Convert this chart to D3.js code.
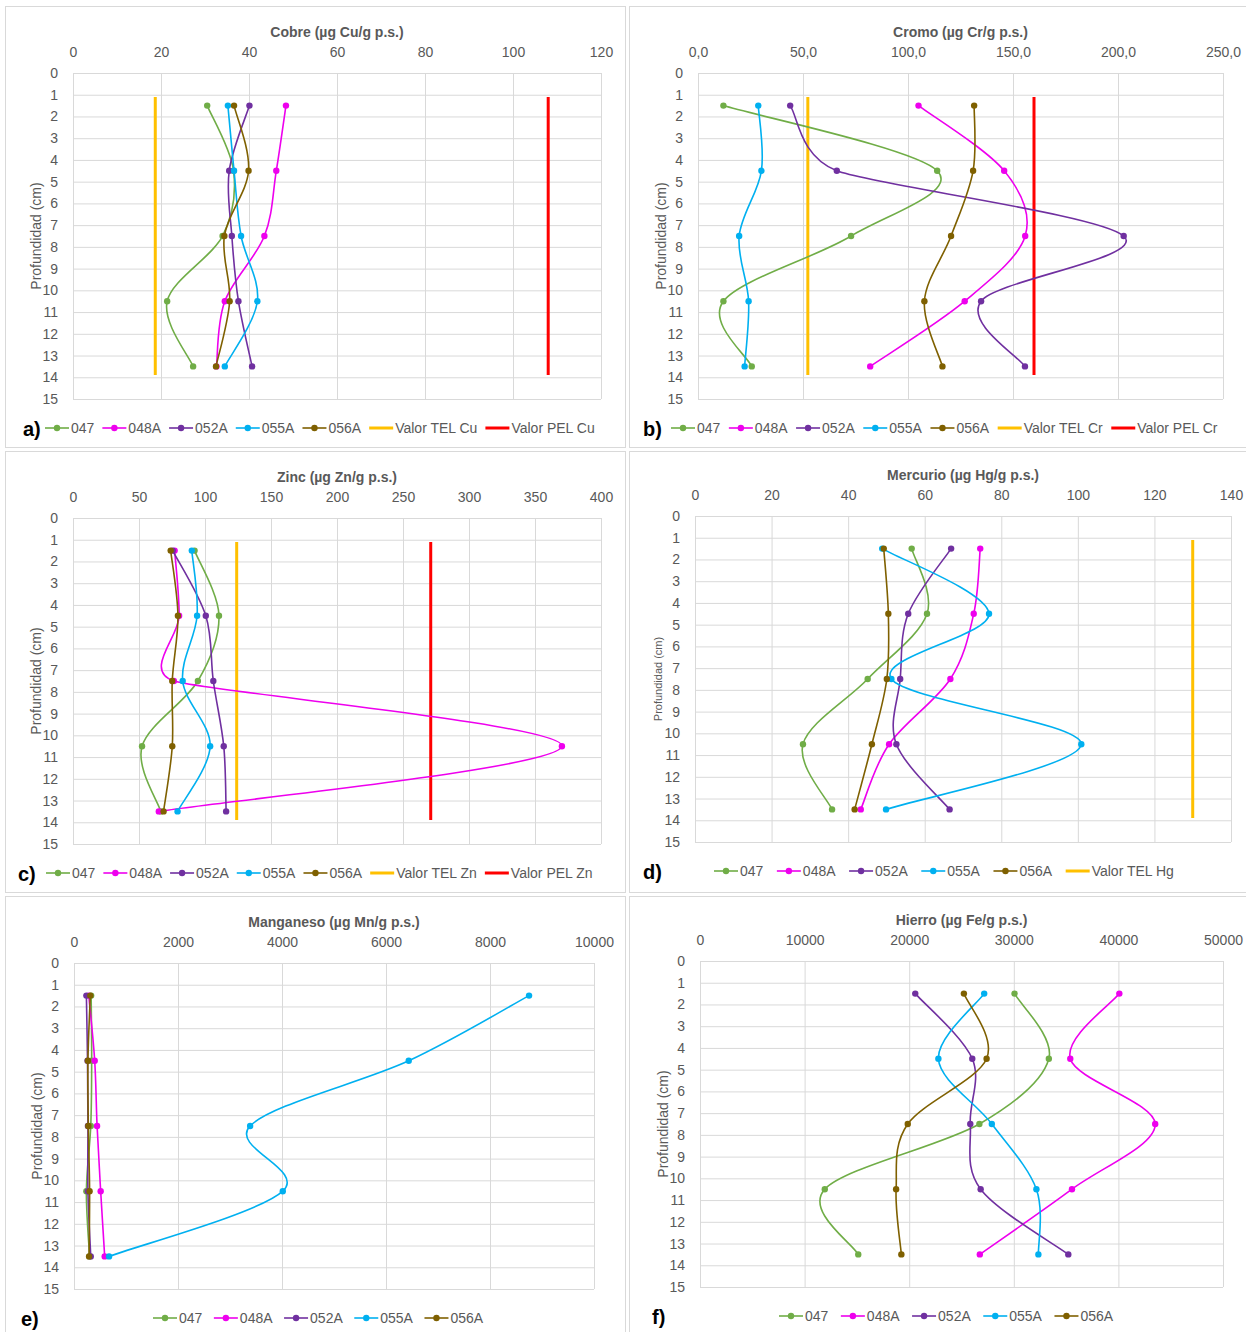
<!DOCTYPE html>
<html>
<head>
<meta charset="utf-8">
<script src="https://cdn.jsdelivr.net/npm/d3@7"></script>
<style>
  body { margin: 0; background: #fff; }
  text { font-family: "Liberation Sans", Arial, sans-serif; fill: #595959; }
</style>
</head>
<body>
<div id="chart"></div>
<script>
// sampled depths (cm) and stations
var depths = [1.5, 4.5, 7.5, 10.5, 13.5];
var stations = ["047", "048A", "052A", "055A", "056A"];

// one row per station (same order as stations), one value per depth
var cobre = [
  [30.5, 36.5, 34.0, 21.4, 27.3],
  [48.4, 46.2, 43.5, 34.5, 32.6],
  [40.1, 35.5, 36.1, 37.6, 40.7],
  [35.2, 36.6, 38.2, 41.9, 34.5],
  [36.6, 39.9, 34.4, 35.6, 32.5]
];
var cromo = [
  [12.1, 113.9, 72.9, 12.1, 25.6],
  [105.0, 145.8, 155.8, 127.0, 82.0],
  [43.9, 66.1, 202.7, 134.8, 155.7],
  [28.7, 30.2, 19.6, 24.1, 22.2],
  [131.5, 131.0, 120.5, 107.8, 116.4]
];
var zinc = [
  [92.1, 110.6, 94.6, 52.3, 66.5],
  [77.0, 80.4, 76.4, 370.4, 65.0],
  [75.5, 100.6, 106.3, 114.2, 116.0],
  [90.0, 94.0, 83.1, 103.9, 79.2],
  [74.0, 79.5, 75.2, 75.2, 68.6]
];
var mercurio = [
  [56.6, 60.6, 45.1, 28.2, 35.8],
  [74.5, 72.8, 66.7, 50.7, 43.3],
  [66.9, 55.7, 53.6, 52.6, 66.5],
  [48.9, 76.8, 51.3, 100.9, 49.9],
  [49.3, 50.5, 50.1, 46.2, 41.7]
];
var manganeso = [
  [330, 340, 322, 238, 300],
  [284, 398, 444, 513, 590],
  [238, 260, 268, 268, 322],
  [8751, 6437, 3387, 4015, 674],
  [314, 268, 276, 300, 290]
];
var hierro = [
  [30070, 33350, 26710, 11930, 15130],
  [40090, 35400, 43520, 35560, 26750],
  [20580, 26030, 25840, 26830, 35210],
  [27170, 22790, 27900, 32160, 32350],
  [25230, 27400, 19860, 18750, 19250]
];

// sediment quality guidelines
var telCu = 18.7, pelCu = 108;
var telCr = 52.3, pelCr = 160;
var telZn = 124, pelZn = 271;
var telHg = 130;
var guideDepths = [1.1, 13.9];

// axis ticks
var depthTicks = [0, 1, 2, 3, 4, 5, 6, 7, 8, 9, 10, 11, 12, 13, 14, 15];
var cuTicks = [0, 20, 40, 60, 80, 100, 120];
var crTicks = [0, 50, 100, 150, 200, 250];
var znTicks = [0, 50, 100, 150, 200, 250, 300, 350, 400];
var hgTicks = [0, 20, 40, 60, 80, 100, 120, 140];
var mnTicks = [0, 2000, 4000, 6000, 8000, 10000];
var feTicks = [0, 10000, 20000, 30000, 40000, 50000];

var stationColors = ["#70AD47", "#EE00EE", "#7030A0", "#00B0F0", "#7F6000"];
var telColor = "#FFC000", pelColor = "#FF0000";

var panels = [
  { tag: "a)", title: "Cobre (µg Cu/g p.s.)", values: cobre, ticks: cuTicks, fmt: d3.format("d"),
    tel: telCu, pel: pelCu, sym: "Cu", left: 5, top: 6, w: 620, px: 68, py: 67, pw: 528, lx: 18, ls: 40, lgap: 0, ys: 14 },
  { tag: "b)", title: "Cromo (µg Cr/g p.s.)", values: cromo, ticks: crTicks, fmt: function(d) { return d3.format(".1f")(d).replace(".", ","); },
    tel: telCr, pel: pelCr, sym: "Cr", left: 629, top: 6, w: 622, px: 69, py: 67, pw: 525, lx: 14, ls: 42, lgap: 0.5, ys: 14 },
  { tag: "c)", title: "Zinc (µg Zn/g p.s.)", values: zinc, ticks: znTicks, fmt: d3.format("d"),
    tel: telZn, pel: pelZn, sym: "Zn", left: 5, top: 451, w: 620, px: 68, py: 67, pw: 528, lx: 13, ls: 41, lgap: 0, ys: 14 },
  { tag: "d)", title: "Mercurio (µg Hg/g p.s.)", values: mercurio, ticks: hgTicks, fmt: d3.format("d"),
    tel: telHg, pel: null, sym: "Hg", left: 629, top: 451, w: 622, px: 66, py: 65, pw: 536, lx: 14, ls: 85, lgap: 5.5, ys: 11 },
  { tag: "e)", title: "Manganeso (µg Mn/g p.s.)", values: manganeso, ticks: mnTicks, fmt: d3.format("d"),
    tel: null, pel: null, sym: "Mn", left: 5, top: 896, w: 620, px: 69, py: 67, pw: 520, lx: 16, ls: 148, lgap: 3.5, ys: 14 },
  { tag: "f)", title: "Hierro (µg Fe/g p.s.)", values: hierro, ticks: feTicks, fmt: d3.format("d"),
    tel: null, pel: null, sym: "Fe", left: 629, top: 896, w: 622, px: 71, py: 65, pw: 523, lx: 23, ls: 150, lgap: 4.5, ys: 14 }
];

var plotHeight = 326;

// spreadsheet-style smoothing: bezier through the points, tangents 1/6 of the
// neighbour chord but never longer than half of the adjacent segments
function smoothPath(pts) {
  var n = pts.length;
  function dist(a, b) { return Math.hypot(b[0] - a[0], b[1] - a[1]); }
  var tan = pts.map(function(p, i) {
    var a = pts[Math.max(i - 1, 0)], b = pts[Math.min(i + 1, n - 1)];
    var tx = b[0] - a[0], ty = b[1] - a[1];
    var f = 1 / 6;
    if (i > 0 && i < n - 1) {
      var d02 = Math.hypot(tx, ty);
      if (d02 > 0) f = Math.min(f, dist(a, p) / (2 * d02), dist(p, b) / (2 * d02));
    }
    return [tx * f, ty * f];
  });
  var path = d3.path();
  path.moveTo(pts[0][0], pts[0][1]);
  for (var i = 0; i < n - 1; i++) {
    path.bezierCurveTo(
      pts[i][0] + tan[i][0], pts[i][1] + tan[i][1],
      pts[i + 1][0] - tan[i + 1][0], pts[i + 1][1] - tan[i + 1][1],
      pts[i + 1][0], pts[i + 1][1]);
  }
  return path.toString();
}

var svg = d3.select("#chart")
  .append("svg")
    .attr("width", 1246)
    .attr("height", 1332);

panels.forEach(function(p) {
  var g = svg.append("g")
    .attr("transform", "translate(" + p.left + "," + p.top + ")");

  // chart area frame
  g.append("rect")
    .attr("x", 0.5).attr("y", 0.5)
    .attr("width", p.w).attr("height", 441)
    .attr("fill", "#fff")
    .attr("stroke", "#d9d9d9");

  var plot = g.append("g")
    .attr("transform", "translate(" + p.px + "," + p.py + ")");

  var x = d3.scaleLinear()
    .domain([p.ticks[0], p.ticks[p.ticks.length - 1]])
    .range([0, p.pw]);
  var y = d3.scaleLinear()
    .domain([0, 15])
    .range([0, plotHeight]);

  // gridlines + labels
  var xAxis = plot.append("g")
    .call(d3.axisTop(x).tickValues(p.ticks).tickFormat(p.fmt).tickSize(-plotHeight).tickPadding(16));
  var yAxis = plot.append("g")
    .call(d3.axisLeft(y).tickValues(depthTicks).tickSize(-p.pw).tickPadding(15));
  [xAxis, yAxis].forEach(function(a) {
    a.select(".domain").remove();
    a.selectAll(".tick line").attr("stroke", "#d9d9d9");
    a.selectAll(".tick text")
      .attr("fill", "#595959")
      .style("font-size", "14px")
      .style("font-family", '"Liberation Sans", Arial, sans-serif');
  });

  // titles
  plot.append("text")
    .attr("x", p.pw / 2)
    .attr("y", -36)
    .attr("text-anchor", "middle")
    .style("font-size", "14px")
    .style("font-weight", "bold")
    .text(p.title);
  g.append("text")
    .attr("transform", "translate(" + (p.px - 37 + (14 - p.ys) * 0.2) + "," + (p.py + plotHeight / 2) + ") rotate(-90)")
    .attr("text-anchor", "middle")
    .attr("dy", "0.35em")
    .style("font-size", p.ys + "px")
    .text("Profundidad (cm)");

  // guideline values
  var guideLine = d3.line()
    .x(function(d) { return x(d.v); })
    .y(function(d) { return y(d.d); });
  var legendItems = stations.map(function(s, i) {
    return { name: s, color: stationColors[i], marker: true };
  });
  if (p.tel !== null) {
    plot.append("path")
      .datum(guideDepths.map(function(d) { return { v: p.tel, d: d }; }))
      .attr("d", guideLine)
      .attr("fill", "none")
      .attr("stroke", telColor)
      .attr("stroke-width", 3);
    legendItems.push({ name: "Valor TEL " + p.sym, color: telColor, marker: false });
  }
  if (p.pel !== null) {
    plot.append("path")
      .datum(guideDepths.map(function(d) { return { v: p.pel, d: d }; }))
      .attr("d", guideLine)
      .attr("fill", "none")
      .attr("stroke", pelColor)
      .attr("stroke-width", 3);
    legendItems.push({ name: "Valor PEL " + p.sym, color: pelColor, marker: false });
  }

  // station profiles
  p.values.forEach(function(vals, i) {
    var pts = vals.map(function(v, j) { return [v, depths[j]]; });
    plot.append("path")
      .attr("d", smoothPath(pts.map(function(d) { return [x(d[0]), y(d[1])]; })))
      .attr("fill", "none")
      .attr("stroke", stationColors[i])
      .attr("stroke-width", 1.6);
    plot.selectAll(null)
      .data(pts)
      .enter()
      .append("circle")
        .attr("cx", function(d) { return x(d[0]); })
        .attr("cy", function(d) { return y(d[1]); })
        .attr("r", 3.2)
        .attr("fill", stationColors[i]);
  });

  // legend
  var ly = p.py + plotHeight + 29;
  var lg = g.append("g")
    .attr("transform", "translate(" + p.ls + "," + ly + ")");
  var cursor = 0;
  legendItems.forEach(function(item) {
    var it = lg.append("g").attr("transform", "translate(" + cursor + ",0)");
    it.append("line")
      .attr("x1", 0).attr("x2", 24)
      .attr("y1", 0).attr("y2", 0)
      .attr("stroke", item.color)
      .attr("stroke-width", item.marker ? 1.6 : 3);
    if (item.marker) {
      it.append("circle").attr("cx", 12).attr("cy", 0).attr("r", 3.2).attr("fill", item.color);
    }
    var t = it.append("text")
      .attr("x", 26)
      .attr("dy", "0.35em")
      .style("font-size", "14px")
      .text(item.name);
    cursor += 26 + t.node().getComputedTextLength() + 8 + p.lgap;
  });

  g.append("text")
    .attr("x", p.lx)
    .attr("y", ly + 8)
    .style("font-size", "20px")
    .style("font-weight", "bold")
    .style("fill", "#000")
    .text(p.tag);
});
</script>
</body>
</html>
